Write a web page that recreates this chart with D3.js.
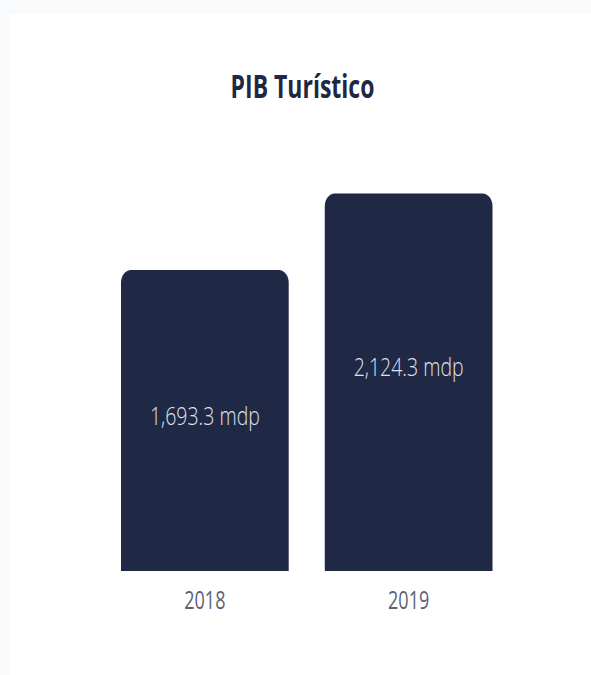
<!DOCTYPE html>
<html>
<head>
<meta charset="utf-8">
<script src="https://cdn.jsdelivr.net/npm/d3@7"></script>
<style>
  html, body { margin: 0; padding: 0; background: #f9fafc; }
  svg { display: block; }
</style>
</head>
<body>
<svg id="chart" width="591" height="675"></svg>
<script>
// PIB turístico por año, en millones de pesos (mdp)
const years = ["2018", "2019"];
const values = [1693.3, 2124.3];
const title = "PIB Turístico";
const valueLabels = ["1,693.3 mdp", "2,124.3 mdp"];

const W = 591, H = 675;
const svg = d3.select("#chart");
const stretch = 1.38;   // tall lettering

// white card
svg.append("rect")
  .attr("x", 10).attr("y", 14)
  .attr("width", W - 10).attr("height", H - 14)
  .attr("fill", "#ffffff");

const x = d3.scaleBand()
  .domain(years)
  .range([121, 492.5])
  .paddingInner(0.177)
  .paddingOuter(0);

const y = d3.scaleLinear()
  .domain([0, d3.max(values)])
  .range([571, 193.5]);

// bar with rounded top corners only
function topRounded(x0, y0, w, h, rx, ry) {
  const p = d3.path();
  p.moveTo(x0, y0 + h);
  p.lineTo(x0, y0 + ry);
  p.bezierCurveTo(x0, y0 + ry * 0.45, x0 + rx * 0.45, y0, x0 + rx, y0);
  p.lineTo(x0 + w - rx, y0);
  p.bezierCurveTo(x0 + w - rx * 0.45, y0, x0 + w, y0 + ry * 0.45, x0 + w, y0 + ry);
  p.lineTo(x0 + w, y0 + h);
  p.closePath();
  return p.toString();
}

const data = years.map((yr, i) => ({ year: yr, value: values[i], label: valueLabels[i] }));

svg.append("g").selectAll("path")
  .data(data)
  .join("path")
  .attr("d", d => topRounded(x(d.year), y(d.value), x.bandwidth(), y(0) - y(d.value), 10, 12.5))
  .attr("fill", "#1f2946");

// value labels inside the bars, placed in the upper half of each bar
svg.append("g").selectAll("text")
  .data(data)
  .join("text")
  .attr("transform", d => {
    const top = y(d.value), h = y(0) - y(d.value);
    return `translate(${x(d.year) + x.bandwidth() / 2},${top + 48 + 0.355 * h}) scale(1,1.32)`;
  })
  .attr("text-anchor", "middle")
  .attr("font-family", "'Open Sans', sans-serif")
  .attr("font-weight", 300)
  .attr("font-size", 19.5)
  .attr("fill", "#dfe2ea")
  .text(d => d.label);

// category axis labels
const xAxis = svg.append("g")
  .attr("transform", `translate(0,${y(0)})`)
  .call(d3.axisBottom(x).tickSize(0).tickPadding(0));
xAxis.select(".domain").remove();
xAxis.selectAll("text")
  .attr("y", 0)
  .attr("dy", null)
  .attr("transform", d => `translate(0,37.5) scale(1,${stretch})`)
  .attr("font-family", "'Open Sans', sans-serif")
  .attr("font-size", 18)
  .attr("fill", "#5b6275");

// title
svg.append("text")
  .attr("transform", `translate(302.5,97.5) scale(1,${stretch})`)
  .attr("text-anchor", "middle")
  .attr("font-family", "'Open Sans', sans-serif")
  .attr("font-weight", 700)
  .attr("font-size", 23)
  .attr("fill", "#1e2843")
  .text(title);
</script>
</body>
</html>
